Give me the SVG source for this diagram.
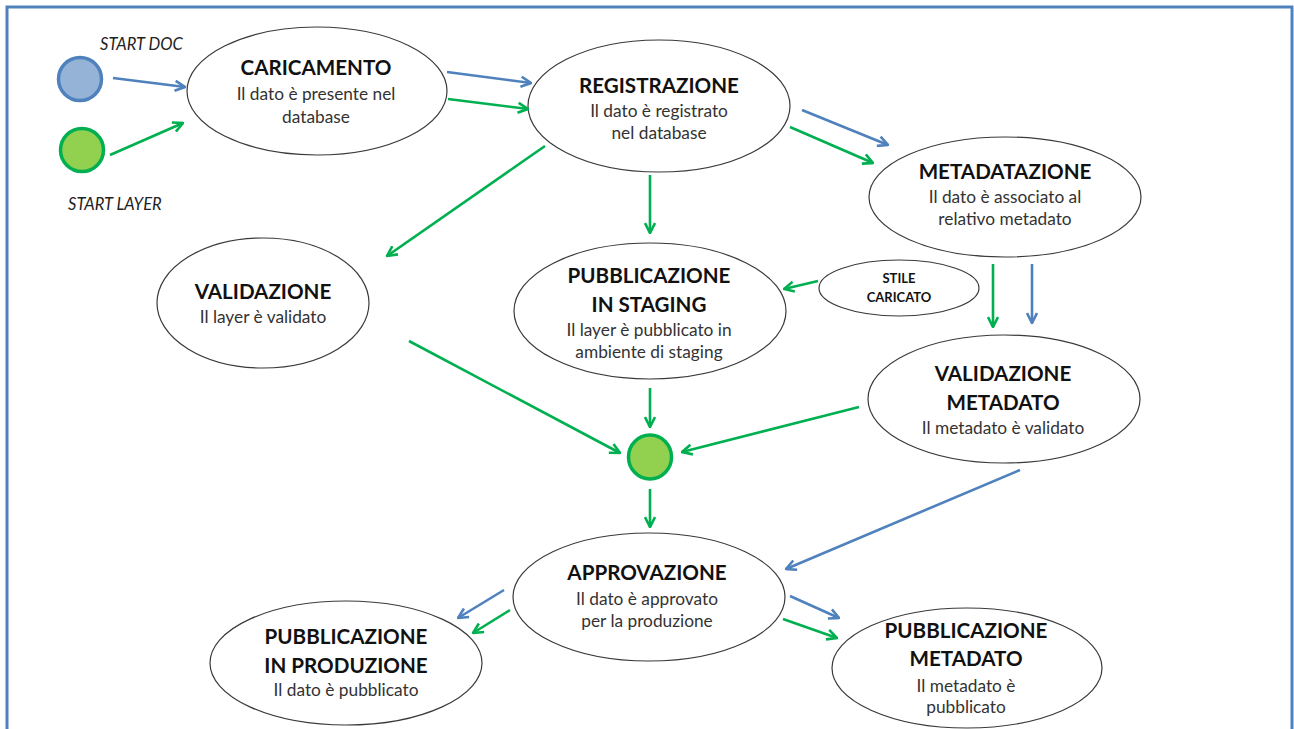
<svg xmlns="http://www.w3.org/2000/svg" width="1294" height="729" viewBox="0 0 1294 729">
<style>
.node ellipse{fill:#fff;stroke:#3a3a3a;stroke-width:1.2}
.t{font-family:Lato,"Open Sans","Liberation Sans",sans-serif;font-weight:bold;font-size:20.6px;fill:#111;text-anchor:middle}
.s{font-family:Lato,"Open Sans","Liberation Sans",sans-serif;font-size:17.3px;fill:#333;text-anchor:middle}
.lab{font-family:Lato,"Open Sans","Liberation Sans",sans-serif;font-style:italic;font-size:16.5px;fill:#222}
.st{font-family:Lato,"Open Sans","Liberation Sans",sans-serif;font-weight:bold;font-size:13px;fill:#111;text-anchor:middle}
.b{stroke:#4F81BD;stroke-width:2.6;fill:none;marker-end:url(#ab)}
.g{stroke:#00B050;stroke-width:2.6;fill:none;marker-end:url(#ag)}
</style>
<defs>
<marker id="ab" viewBox="0 0 12 12" refX="11" refY="6" markerWidth="12" markerHeight="12" markerUnits="userSpaceOnUse" orient="auto">
<path d="M1,1 L11,6 L1,11" fill="none" stroke="#4F81BD" stroke-width="2.6" stroke-linejoin="miter"/>
</marker>
<marker id="ag" viewBox="0 0 12 12" refX="11" refY="6" markerWidth="12" markerHeight="12" markerUnits="userSpaceOnUse" orient="auto">
<path d="M1,1 L11,6 L1,11" fill="none" stroke="#00B050" stroke-width="2.6" stroke-linejoin="miter"/>
</marker>
</defs>
<rect x="0" y="0" width="1294" height="729" fill="#fff"/>
<rect x="7" y="7" width="1285" height="760" fill="none" stroke="#4F81BD" stroke-width="3"/>

<g id="start-doc">
<circle cx="80" cy="79" r="21.5" fill="#95B3D7" stroke="#4F81BD" stroke-width="3.5"/>
<text class="lab" x="100" y="50">START DOC</text>
</g>
<g id="start-layer">
<circle cx="82" cy="150" r="21.5" fill="#92D050" stroke="#00B050" stroke-width="3.5"/>
<text class="lab" x="68" y="210">START LAYER</text>
</g>

<g id="caricamento" class="node">
<ellipse cx="317" cy="91" rx="130" ry="64"/>
<text class="t" x="316" y="75">CARICAMENTO</text>
<text class="s" x="316" y="100">Il dato è presente nel</text>
<text class="s" x="316" y="123">database</text>
</g>
<g id="registrazione" class="node">
<ellipse cx="659" cy="106" rx="131" ry="66"/>
<text class="t" x="659" y="93">REGISTRAZIONE</text>
<text class="s" x="659" y="117">Il dato è registrato</text>
<text class="s" x="659" y="139">nel database</text>
</g>
<g id="metadatazione" class="node">
<ellipse cx="1005" cy="197" rx="136" ry="60"/>
<text class="t" x="1005" y="179">METADATAZIONE</text>
<text class="s" x="1005" y="203">Il dato è associato al</text>
<text class="s" x="1005" y="225">relativo metadato</text>
</g>
<g id="stile-caricato" class="node">
<ellipse cx="899" cy="288" rx="80" ry="28"/>
<text class="st" x="899" y="283">STILE</text>
<text class="st" x="899" y="302">CARICATO</text>
</g>
<g id="validazione" class="node">
<ellipse cx="263" cy="303" rx="106" ry="65"/>
<text class="t" x="263" y="299">VALIDAZIONE</text>
<text class="s" x="263" y="323">Il layer è validato</text>
</g>
<g id="pubblicazione-staging" class="node">
<ellipse cx="650" cy="311" rx="136" ry="68"/>
<text class="t" x="649" y="283">PUBBLICAZIONE</text>
<text class="t" x="649" y="312">IN STAGING</text>
<text class="s" x="649" y="336">Il layer è pubblicato in</text>
<text class="s" x="649" y="358">ambiente di staging</text>
</g>
<g id="validazione-metadato" class="node">
<ellipse cx="1004" cy="399" rx="136" ry="64"/>
<text class="t" x="1003" y="381">VALIDAZIONE</text>
<text class="t" x="1003" y="410">METADATO</text>
<text class="s" x="1003" y="434">Il metadato è validato</text>
</g>
<g id="junction">
<ellipse cx="650" cy="457" rx="21.5" ry="22" fill="#92D050" stroke="#00B050" stroke-width="3.5"/>
</g>
<g id="approvazione" class="node">
<ellipse cx="649" cy="597" rx="136" ry="64"/>
<text class="t" x="647" y="580">APPROVAZIONE</text>
<text class="s" x="647" y="605">Il dato è approvato</text>
<text class="s" x="647" y="627">per la produzione</text>
</g>
<g id="pubblicazione-produzione" class="node">
<ellipse cx="346" cy="663" rx="136" ry="62"/>
<text class="t" x="346" y="644">PUBBLICAZIONE</text>
<text class="t" x="346" y="673">IN PRODUZIONE</text>
<text class="s" x="346" y="696">Il dato è pubblicato</text>
</g>
<g id="pubblicazione-metadato" class="node">
<ellipse cx="967" cy="668" rx="135" ry="60"/>
<text class="t" x="966" y="638">PUBBLICAZIONE</text>
<text class="t" x="966" y="666">METADATO</text>
<text class="s" x="966" y="692">Il metadato è</text>
<text class="s" x="966" y="713">pubblicato</text>
</g>

<g id="connectors">
<line class="b" x1="113" y1="78" x2="185" y2="87"/>
<line class="g" x1="110" y1="155" x2="183" y2="123"/>
<line class="b" x1="447" y1="72" x2="531" y2="83"/>
<line class="g" x1="448" y1="99" x2="528" y2="109"/>
<line class="b" x1="802" y1="110" x2="888" y2="145"/>
<line class="g" x1="790" y1="127" x2="873" y2="163"/>
<line class="g" x1="545" y1="146" x2="387" y2="256"/>
<line class="g" x1="650" y1="175" x2="650" y2="233"/>
<line class="g" x1="818" y1="281" x2="784" y2="289"/>
<line class="g" x1="993" y1="264" x2="993" y2="327"/>
<line class="b" x1="1032" y1="264" x2="1032" y2="323"/>
<line class="g" x1="409" y1="341" x2="620" y2="453"/>
<line class="g" x1="650" y1="388" x2="650" y2="427"/>
<line class="g" x1="859" y1="407" x2="682" y2="452"/>
<line class="g" x1="650" y1="489" x2="650" y2="527"/>
<line class="b" x1="1020" y1="470" x2="786" y2="569"/>
<line class="b" x1="504" y1="590" x2="458" y2="618"/>
<line class="g" x1="510" y1="610" x2="473" y2="633"/>
<line class="b" x1="790" y1="596" x2="839" y2="618"/>
<line class="g" x1="783" y1="619" x2="837" y2="638"/>
</g>
</svg>
